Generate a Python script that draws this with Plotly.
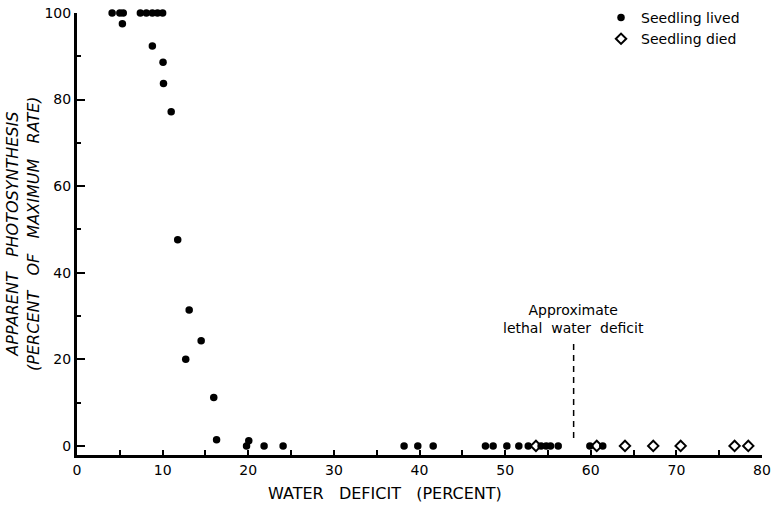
import plotly.graph_objects as go

# Seedling lived (filled dots)
lived_x = [4.1, 5.0, 5.4, 7.4, 8.1, 8.8, 9.4, 10.0, 5.3, 8.8, 10.05, 10.1, 11.0,
           11.76, 13.1, 14.5, 12.7, 15.97, 16.3, 20.06, 19.8, 21.85, 24.07,
           38.2, 39.8, 41.6, 47.7, 48.6, 50.2, 51.6, 52.7, 54.2, 54.8, 55.3, 56.2,
           59.9, 61.4]
lived_y = [100, 100, 100, 100, 100, 100, 100, 100, 97.5, 92.4, 88.6, 83.7, 77.2,
           47.6, 31.4, 24.3, 20.0, 11.2, 1.45, 1.2, 0, 0, 0,
           0, 0, 0, 0, 0, 0, 0, 0, 0, 0, 0, 0,
           0, 0]

# Seedling died (open diamonds)
died_x = [53.6, 60.7, 64.0, 67.3, 70.5, 76.8, 78.4]
died_y = [0, 0, 0, 0, 0, 0, 0]

lethal_x = 58
lethal_y = [1.8, 24.1]

x_ticks = [0, 10, 20, 30, 40, 50, 60, 70, 80]
y_ticks = [0, 20, 40, 60, 80, 100]

FONT = "DejaVu Sans"
SP = "&nbsp;&nbsp;"
SP3 = "&nbsp;&nbsp;&nbsp;"

fig = go.Figure()
fig.add_trace(go.Scatter(
    x=lived_x, y=lived_y, mode="markers", name="Seedling lived", cliponaxis=False,
    marker=dict(symbol="circle", size=7.5, color="black"),
))
fig.add_trace(go.Scatter(
    x=died_x, y=died_y, mode="markers", name="Seedling died", cliponaxis=False,
    marker=dict(symbol="diamond-open", size=8, color="black", line=dict(width=2, color="black")),
))

fig.add_shape(type="line", x0=lethal_x, x1=lethal_x, y0=lethal_y[0], y1=lethal_y[1],
              xref="x", yref="y", line=dict(color="black", width=1.5, dash="6px,5px"))

fig.add_annotation(x=lethal_x, y=lethal_y[1], xref="x", yref="y",
                   text="Approximate<br>lethal" + SP + "water" + SP + "deficit", showarrow=False,
                   yanchor="bottom", yshift=4,
                   font=dict(family=FONT, size=14, color="black"))

fig.add_annotation(x=0.45, y=-0.088, xref="paper", yref="paper",
                   text="WATER" + SP3 + "DEFICIT" + SP3 + "(PERCENT)", showarrow=False,
                   xanchor="center", yanchor="middle",
                   font=dict(family=FONT, size=16, color="black"))

fig.add_annotation(x=-0.079, y=0.5, xref="paper", yref="paper",
                   text="<i>APPARENT" + SP3 + "PHOTOSYNTHESIS<br>(PERCENT" + SP3 + "OF" + SP3 + "MAXIMUM" + SP3 + "RATE)</i>",
                   showarrow=False, textangle=-90, xanchor="center", yanchor="middle",
                   font=dict(family=FONT, size=16, color="black"))

fig.update_layout(
    width=773, height=508,
    margin=dict(l=77, r=11, t=13, b=53, autoexpand=False),
    paper_bgcolor="white", plot_bgcolor="white",
    font=dict(family=FONT, size=14, color="black"),
    showlegend=True,
    legend=dict(x=0.765, y=1.025, xanchor="left", yanchor="top", bgcolor="rgba(0,0,0,0)",
                font=dict(family=FONT, size=14, color="black"), itemwidth=30,
                tracegroupgap=0),
)
fig.update_xaxes(
    range=[0, 80], tickvals=x_ticks, ticks="inside", ticklen=5, tickwidth=1.5,
    tickcolor="black", showline=True, linewidth=3, linecolor="black", automargin=False,
    showgrid=False, zeroline=False, minor=dict(dtick=5, ticks="inside", ticklen=5, tickwidth=1.5, tickcolor="black"),
    tickfont=dict(family=FONT, size=14, color="black"),
)
fig.update_yaxes(
    range=[-2.1, 100], tickvals=y_ticks, ticks="inside", ticklen=8, tickwidth=1.5,
    tickcolor="black", showline=True, linewidth=3, linecolor="black", automargin=False,
    showgrid=False, zeroline=False, minor=dict(dtick=10, ticks="inside", ticklen=4, tickwidth=1.5, tickcolor="black"),
    tickfont=dict(family=FONT, size=14, color="black"),
)

fig.write_html("out.html", config={"displayModeBar": False},
               post_script="document.body.style.margin='0';document.body.style.overflow='hidden';")
